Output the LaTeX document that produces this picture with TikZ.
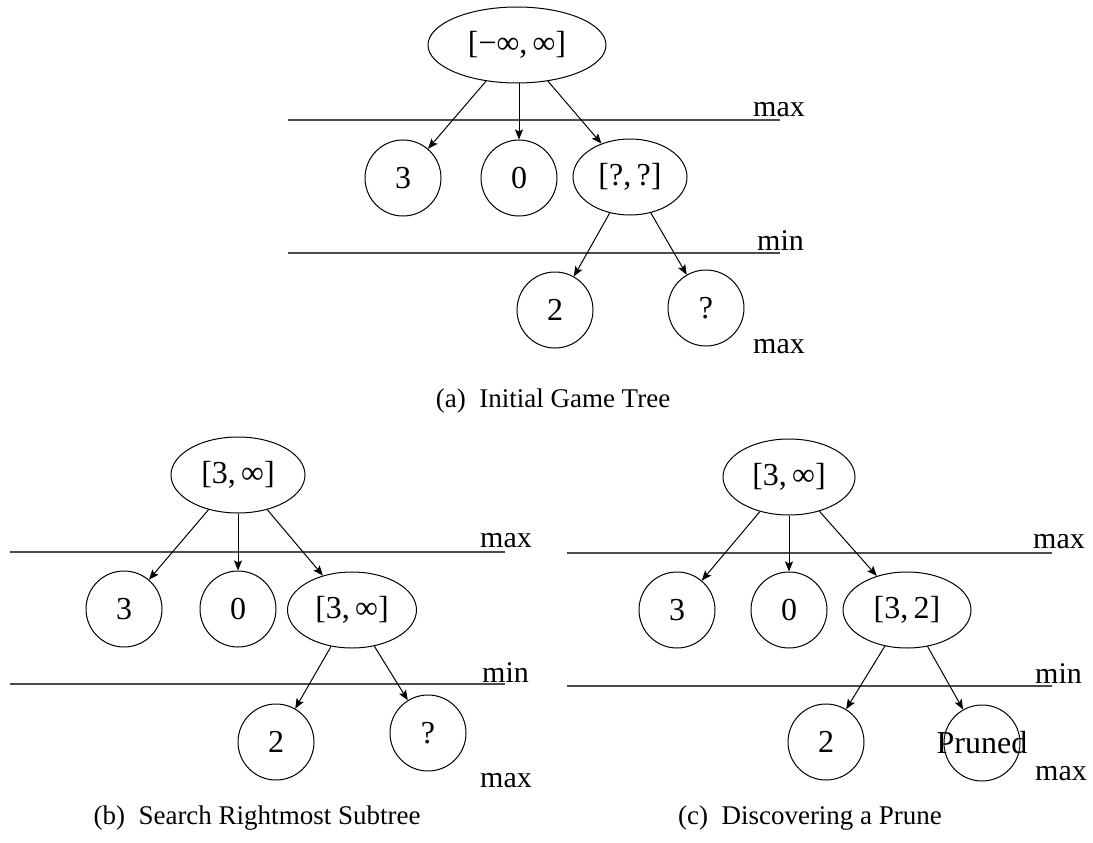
\documentclass[tikz,border=0pt]{standalone}
\usepackage{fontspec}
\setmainfont{Liberation Serif}
\usetikzlibrary{shapes.geometric,arrows.meta}
\begin{document}
\begin{tikzpicture}[x=1pt,y=-1pt,
  nd/.style={draw, line width=1pt, inner sep=0pt, font=\fontsize{32}{32}\selectfont},
  circ/.style={nd, circle, minimum size=76pt},
  ell/.style={nd, ellipse, minimum height=76pt},
  lvl/.style={line width=1.3pt, black!70},
  arr/.style={-{Stealth[length=10pt,width=8pt,inset=2pt]}, line width=1pt},
  lab/.style={anchor=base west, inner sep=0pt, font=\fontsize{30}{30}\selectfont},
  captxt/.style={inner sep=0pt, font=\fontsize{27}{27}\selectfont}]
\useasboundingbox (0,0) rectangle (1093,843);

% ---------------- (a) ----------------
\coordinate (aL1) at (288,120); \coordinate (aR1) at (780,120);
\coordinate (aL2) at (288,253); \coordinate (aR2) at (780,253);
\draw[lvl] (aL1) -- (aR1);
\draw[lvl] (aL2) -- (aR2);
\node[lab] (amax1) at (753,117) {max};
\node[lab] (amin) at (757,250) {min};
\node[lab] (amax2) at (753,353) {max};

\node[ell, minimum width=178pt] (ar) at (517,45) {[−∞,\,∞]};
\node[circ] (a3) at (403,178) {3};
\node[circ] (a0) at (519,178) {0};
\node[ell, minimum width=114pt] (aq) at (630,177) {[?,\,?]};
\node[circ] (a2) at (555,310) {2};
\node[circ] (aqq) at (706,308) {?};
\draw[arr] (ar) -- (a3);
\draw[arr] (ar.south -| a0) -- (a0);
\draw[arr] (ar) -- (aq);
\draw[arr] (aq) -- (a2);
\draw[arr] (aq) -- (aqq);
\node[captxt] (capa) at (553,401) {(a)\enspace Initial Game Tree};

% ---------------- (b) ----------------
\coordinate (bL1) at (10,552); \coordinate (bR1) at (505,552);
\coordinate (bL2) at (10,684); \coordinate (bR2) at (505,684);
\draw[lvl] (bL1) -- (bR1);
\draw[lvl] (bL2) -- (bR2);
\node[lab] (bmax1) at (480,547) {max};
\node[lab] (bmin) at (482,682) {min};
\node[lab] (bmax2) at (480,787) {max};

\node[ell, minimum width=134pt] (br) at (238,475) {[3,\,∞]};
\node[circ] (b3) at (124,609) {3};
\node[circ] (b0) at (238,609) {0};
\node[ell, minimum width=129pt] (bq) at (352,610) {[3,\,∞]};
\node[circ] (b2) at (276,742) {2};
\node[circ] (bqq) at (428,733) {?};
\draw[arr] (br) -- (b3);
\draw[arr] (br) -- (b0);
\draw[arr] (br) -- (bq);
\draw[arr] (bq) -- (b2);
\draw[arr] (bq) -- (bqq);
\node[captxt] (capb) at (257,818) {(b)\enspace Search Rightmost Subtree};

% ---------------- (c) ----------------
\coordinate (cL1) at (567,553); \coordinate (cR1) at (1052,553);
\coordinate (cL2) at (567,686); \coordinate (cR2) at (1052,686);
\draw[lvl] (cL1) -- (cR1);
\draw[lvl] (cL2) -- (cR2);
\node[lab] (cmax1) at (1033,548) {max};
\node[lab] (cmin) at (1035,683) {min};
\node[lab] (cmax2) at (1035,780) {max};

\node[ell, minimum width=132pt] (cr) at (789,477) {[3,\,∞]};
\node[circ] (c3) at (677,610) {3};
\node[circ] (c0) at (789,610) {0};
\node[ell, minimum width=128pt] (cq) at (907,610) {[3,\,2]};
\node[circ] (c2) at (826,742) {2};
\node[circ, label={[inner sep=0pt, font=\fontsize{32}{32}\selectfont]center:Pruned}] (cp) at (982,743) {};
\draw[arr] (cr) -- (c3);
\draw[arr] (cr) -- (c0);
\draw[arr] (cr) -- (cq);
\draw[arr] (cq) -- (c2);
\draw[arr] (cq) -- (cp);
\node[captxt] (capc) at (810,818) {(c)\enspace Discovering a Prune};
\end{tikzpicture}
\end{document}
